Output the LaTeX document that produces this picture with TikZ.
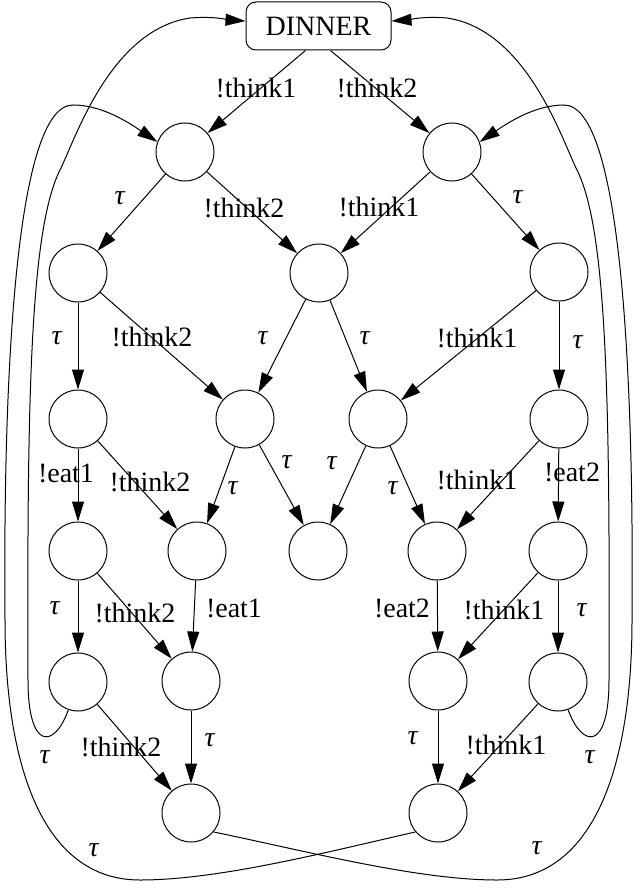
\documentclass[tikz,border=0pt]{standalone}
\usepackage{fontspec}
\setmainfont{Liberation Serif}
\usetikzlibrary{arrows.meta}
\newcommand{\tlab}{\textit{τ}}

\begin{document}
\begin{tikzpicture}[x=1pt, y=-1pt, line width=1pt, >={Triangle[length=20pt,width=12pt]},
  every node/.style={font=\fontsize{28}{30}\selectfont},
  state/.style={circle,draw,minimum size=58pt,inner sep=0pt},
  lbl/.style={inner sep=0pt}]
\useasboundingbox (0,0) rectangle (640,888);

% Start node
\node[rectangle,draw,rounded corners=10pt,minimum width=145pt,minimum height=48pt,inner sep=0pt] at (318.5,26) (D) {DINNER};

% States, row by row
\node[state] at (185,152) (A1) {};
\node[state] at (452,152) (A2) {};

\node[state] at (78,273) (B1) {};
\node[state] at (319,273) (B2) {};
\node[state] at (559,272) (B3) {};

\node[state] at (78,419) (C1) {};
\node[state] at (245,419) (C2) {};
\node[state] at (378,419) (C3) {};
\node[state] at (559,419) (C4) {};

\node[state] at (78,551) (E1) {};
\node[state] at (197,551) (E2) {};
\node[state] at (318,551) (E3) {};
\node[state] at (437,551) (E4) {};
\node[state] at (558,551) (E5) {};

\node[state] at (78,682) (F1) {};
\node[state] at (191,681) (F2) {};
\node[state] at (438,681) (F3) {};
\node[state] at (558,682) (F4) {};

\node[state] at (191,813) (G1) {};
\node[state] at (438,813) (G2) {};

% Connections: out of DINNER
\draw[->] ([xshift=-13pt]D.south) -- (A1);
\draw[->] ([xshift=12pt]D.south) -- (A2);

% Connections: row A to row B
\draw[->] (A1) -- (B1);
\draw[->] (A1) -- (B2);
\draw[->] (A2) -- (B2);
\draw[->] (A2) -- (B3);

% Connections: row B to row C
\draw[->] (B1) -- (C1);
\draw[->] (B1) -- (C2);
\draw[->] (B2) -- (C2);
\draw[->] (B2) -- (C3);
\draw[->] (B3) -- (C3);
\draw[->] (B3) -- (C4);

% Connections: row C to row E
\draw[->] (C1) -- (E1);
\draw[->] (C1) -- (E2);
\draw[->] (C2) -- (E2);
\draw[->] (C2) -- (E3);
\draw[->] (C3) -- (E3);
\draw[->] (C3) -- (E4);
\draw[->] (C4) -- (E4);
\draw[->] (C4) -- (E5);

% Connections: row E to row F
\draw[->] (E1) -- (F1);
\draw[->] (E1) -- (F2);
\draw[->] (E2) -- (F2);
\draw[->] (E4) -- (F3);
\draw[->] (E5) -- (F3);
\draw[->] (E5) -- (F4);

% Connections: row F to row G
\draw[->] (F1) -- (G1);
\draw[->] (F2) -- (G1);
\draw[->] (F3) -- (G2);
\draw[->] (F4) -- (G2);

% Long way back, left side
\draw[->] (F1) .. controls (55,748) and (28,752) .. (28,680)
  .. controls (27,400) and (30,230) .. (60,170)
  .. controls (75,140) and (110,30) .. (190,18)
  .. controls (215,16) and (230,20) .. (D);
\draw[->] (G2.-140) .. controls (331,851) and (220,880) .. (140,880)
  .. controls (40,880) and (5,760) .. (5,620)
  .. controls (3,380) and (15,105) .. (73,105)
  .. controls (100,105) and (125,120) .. (A1.160);

% Long way back, right side
\draw[->] (F4) .. controls (582,748) and (609,752) .. (609,680)
  .. controls (610,400) and (607,230) .. (577,170)
  .. controls (562,140) and (527,30) .. (447,18)
  .. controls (422,16) and (407,20) .. (D);
\draw[->] (G1.-40) .. controls (306,851) and (417,880) .. (497,880)
  .. controls (597,880) and (632,760) .. (632,620)
  .. controls (634,380) and (622,105) .. (564,105)
  .. controls (537,105) and (512,120) .. (A2.20);

% Edge labels
\node[lbl] at (256,88) (lDA1) {!think1};
\node[lbl] at (377,88) (lDA2) {!think2};
\node[lbl] at (120,198) (lA1B1) {\tlab};
\node[lbl] at (244,208) (lA1B2) {!think2};
\node[lbl] at (379,207) (lA2B2) {!think1};
\node[lbl] at (518,197) (lA2B3) {\tlab};
\node[lbl] at (57,338) (lB1C1) {\tlab};
\node[lbl] at (152,337) (lB1C2) {!think2};
\node[lbl] at (263,338) (lB2C2) {\tlab};
\node[lbl] at (365,338) (lB2C3) {\tlab};
\node[lbl] at (477,338) (lB3C3) {!think1};
\node[lbl] at (578,342) (lB3C4) {\tlab};
\node[lbl] at (66,473) (lC1E1) {!eat1};
\node[lbl] at (150,482) (lC1E2) {!think2};
\node[lbl] at (233,488) (lC2E2) {\tlab};
\node[lbl] at (287,462) (lC2E3) {\tlab};
\node[lbl] at (332,463) (lC3E3) {\tlab};
\node[lbl] at (393,488) (lC3E4) {\tlab};
\node[lbl] at (477,480) (lC4E4) {!think1};
\node[lbl] at (572,472) (lC4E5) {!eat2};
\node[lbl] at (55,608) (lE1F1) {\tlab};
\node[lbl] at (135,613) (lE1F2) {!think2};
\node[lbl] at (234,608) (lE2F2) {!eat1};
\node[lbl] at (402,608) (lE4F3) {!eat2};
\node[lbl] at (504,610) (lE5F3) {!think1};
\node[lbl] at (582,610) (lE5F4) {\tlab};
\node[lbl] at (121,747) (lF1G1) {!think2};
\node[lbl] at (210,740) (lF2G1) {\tlab};
\node[lbl] at (413,738) (lF3G2) {\tlab};
\node[lbl] at (506,745) (lF4G2) {!think1};
\node[lbl] at (45,757) (lF1D) {\tlab};
\node[lbl] at (94,850) (lG2A1) {\tlab};
\node[lbl] at (590,757) (lF4D) {\tlab};
\node[lbl] at (537,848) (lG1A2) {\tlab};
\end{tikzpicture}
\end{document}
